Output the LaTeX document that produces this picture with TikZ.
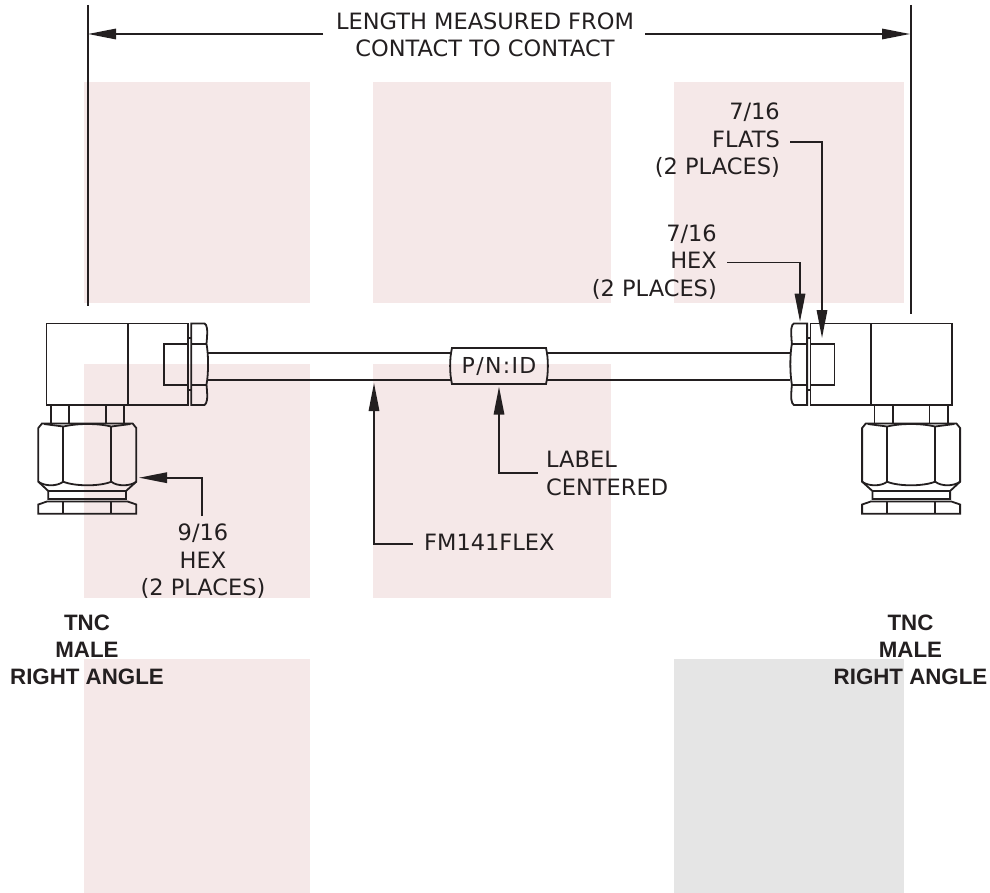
\documentclass[tikz,border=0pt]{standalone}
\usepackage{fontspec}
\setmainfont{DejaVu Sans}
\newfontfamily\boldlab{Liberation Sans}[BoldFont={Liberation Sans Bold}]
\usetikzlibrary{arrows.meta}
\definecolor{ink}{HTML}{231F20}
\definecolor{blush}{HTML}{F5E8E8}
\definecolor{graybox}{HTML}{E5E5E5}
\tikzset{
  x=1pt,y=-1pt,
  swatch/.style={fill=blush,draw=none},
  part/.style={draw=ink,line width=1.8pt,line join=miter},
  extline/.style={draw=ink,line width=1.8pt},
  leader/.style={draw=ink,line width=1.6pt,-{Triangle[length=28pt,width=10.5pt]}},
  note/.style={font=\fontsize{22.5}{27.4}\selectfont,text=ink,inner sep=0pt},
  conn/.style={font=\fontsize{22.3}{27}\selectfont\boldlab\bfseries,text=ink,inner sep=0pt,align=center},
}
\newcommand{\tncconnector}{%
  \draw[part] (46.5,323.5) rectangle (188,405);
  \draw[part] (127.7,323.5) -- (127.7,405);
  \draw[part] (188,343.7) -- (164,343.7) -- (164,384.7) -- (188,384.7);
  \draw[part] (188,338) -- (191.3,338) (188,390) -- (191.3,390);
  \draw[part] (191.3,323.5) -- (204.5,323.5) .. controls (207,325) and (208,328) .. (206.5,343.7)
     .. controls (208.6,355) and (208.6,373) .. (206.5,384.7)
     .. controls (208,400) and (207,403) .. (204.5,405) -- (191.3,405) -- cycle;
  \draw[part] (191.3,343.7) -- (206.5,343.7) (191.3,384.7) -- (206.5,384.7);
  \draw[part] (50.7,405) -- (50.7,423) (69,405) -- (69,423) (105.7,405) -- (105.7,423) (124,405) -- (124,423);
  \draw[part] (38.3,428) -- (42,423.5) -- (132.6,423.5) -- (136.3,428) -- (136.3,481.7) -- (126,491)
     -- (126,499) -- (48.3,499) -- (48.3,491) -- (38.3,481.7) -- cycle;
  \draw[part] (48.3,491) -- (126,491);
  \draw[part] (44,424) -- (63.3,426.5) .. controls (70,425) and (78,424) .. (87.3,424)
     .. controls (97,424) and (105,425) .. (111.3,426.5) -- (130.6,424);
  \draw[part] (63.3,426.5) -- (63.3,481.7) (111.3,426.5) -- (111.3,481.7);
  \draw[part] (38.3,481.7) .. controls (45,486.5) and (57,486.5) .. (63.3,481.7)
     .. controls (75,486.5) and (100,486.5) .. (111.3,481.7)
     .. controls (117,486.5) and (130,486.5) .. (136.3,481.7);
  \draw[part] (38.3,504.5) -- (47,501.5) -- (127.6,501.5) -- (136.3,504.5) -- (136.3,513.7) -- (38.3,513.7) -- cycle;
  \draw[part] (63.3,502) -- (63.3,513.7) (111.3,502) -- (111.3,513.7);
}
\begin{document}
\begin{tikzpicture}
\useasboundingbox (0,0) rectangle (990,893);
% backing swatches
\fill[swatch] (84,82) rectangle (310,303);
\fill[swatch] (373,82) rectangle (611,303);
\fill[swatch] (674,82) rectangle (904,303);
\fill[swatch] (84,364) rectangle (310,598);
\fill[swatch] (373,364) rectangle (611,598);
\fill[swatch] (84,659) rectangle (310,893);
\fill[graybox] (674,659) rectangle (904,893);
% connectors
\begin{scope}\tncconnector\end{scope}
\begin{scope}[xscale=-1,xshift=-998.4pt]\tncconnector\end{scope}
% cable and label
\node[note,font=\fontsize{22}{27}\selectfont\addfontfeature{LetterSpace=6},minimum width=96pt,minimum height=36pt] (pn) at (499,366) {P/N:ID};
\draw[part] (208,352.8) -- (450.8,352.8) (208,380) -- (450.8,380);
\draw[part] (547.2,352.8) -- (790,352.8) (547.2,380) -- (790,380);
\draw[part] (452,348) -- (546,348) .. controls (548.5,358) and (548.5,374) .. (546,384)
   -- (452,384) .. controls (449.5,374) and (449.5,358) .. (452,348) -- cycle;
% overall length
\node[note,align=center] (len) at (485,35) {LENGTH MEASURED FROM\\CONTACT TO CONTACT};
\coordinate (extLtop) at (88,5); \coordinate (extLbot) at (88,306);
\coordinate (extRtop) at (910.7,5); \coordinate (extRbot) at (910.7,314);
\coordinate (dimL) at (88,34); \coordinate (dimLs) at (323,34);
\coordinate (dimR) at (910,34); \coordinate (dimRs) at (645,34);
\draw[extline] (extLtop) -- (extLbot);
\draw[extline] (extRtop) -- (extRbot);
\draw[leader] (dimLs) -- (dimL);
\draw[leader] (dimRs) -- (dimR);
% callouts
\node[note,align=right,anchor=east] (flats) at (780,140.5) {7/16\\FLATS\\(2 PLACES)};
\coordinate (flatsA) at (790,142); \coordinate (flatsT) at (822,338);
\draw[leader] (flatsA) -| (flatsT);
\node[note,align=right,anchor=east] (hexr) at (717,262) {7/16\\HEX\\(2 PLACES)};
\coordinate (hexA) at (727,262.7); \coordinate (hexT) at (800,321.7);
\draw[leader] (hexA) -| (hexT);
\node[note,align=center] (hexl) at (203,561.5) {9/16\\HEX\\(2 PLACES)};
\coordinate (hexlA) at (202,516); \coordinate (hexlT) at (139,477.7);
\draw[leader] (hexlA) |- (hexlT);
\node[note,anchor=west] (fm) at (424,542.5) {FM141FLEX};
\coordinate (fmA) at (412.7,543.7); \coordinate (fmT) at (374,383);
\draw[leader] (fmA) -| (fmT);
\node[note,align=left,anchor=west] (lab) at (546,473.5) {LABEL\\CENTERED};
\coordinate (labA) at (537.7,472.7); \coordinate (labT) at (499,386.7);
\draw[leader] (labA) -| (labT);
% connector names
\node[conn] (tncL) at (87,650) {TNC\\MALE\\RIGHT ANGLE};
\node[conn] (tncR) at (910.5,650) {TNC\\MALE\\RIGHT ANGLE};
\end{tikzpicture}
\end{document}
